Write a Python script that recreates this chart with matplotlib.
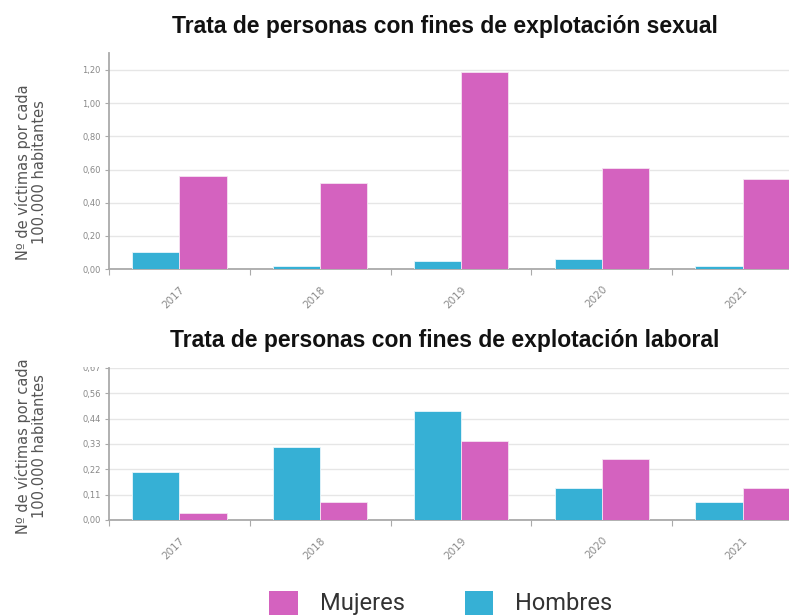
import matplotlib
matplotlib.use("Agg")
import matplotlib.pyplot as plt
from matplotlib.patches import Patch, Rectangle
import numpy as np

years = ["2017", "2018", "2019", "2020", "2021"]
sexual_mujeres = [0.56, 0.52, 1.19, 0.61, 0.54]
sexual_hombres = [0.10, 0.02, 0.05, 0.06, 0.02]
laboral_mujeres = [0.03, 0.08, 0.35, 0.27, 0.14]
laboral_hombres = [0.21, 0.32, 0.48, 0.14, 0.08]
sexual_ticks = [0.0, 0.2, 0.4, 0.6, 0.8, 1.0, 1.2]
sexual_ticklabels = ["0,00", "0,20", "0,40", "0,60", "0,80", "1,00", "1,20"]
laboral_ticklabels = ["0,00", "0,11", "0,22", "0,33", "0,44", "0,56", "0,67"]
laboral_max = 0.67
titles = ["Trata de personas con fines de explotación sexual",
          "Trata de personas con fines de explotación laboral"]
ylabel = "Nº de víctimas por cada\n100.000 habitantes"
legend_labels = ["Mujeres", "Hombres"]

C_M = "#d462bf"
C_H = "#36b0d5"
W, H = 789, 615

fig = plt.figure(figsize=(W / 100, H / 100), dpi=100)
fig.patch.set_facecolor("white")

def fx(px):
    return px / W

def fy(py):
    return 1 - py / H

ax1 = fig.add_axes([fx(109), fy(269), fx(813) - fx(109), fy(53) - fy(269)])
ax2 = fig.add_axes([fx(109), fy(520), fx(813) - fx(109), fy(368) - fy(520)])

x = np.arange(len(years))
bw = 0.335

def style(ax, mh, mm, yticks, ylabels, ymax):
    ax.bar(x - bw / 2, mh, bw, color=C_H, edgecolor="#e8f6fb", linewidth=0.6, zorder=3)
    ax.bar(x + bw / 2, mm, bw, color=C_M, edgecolor="#f6e3f2", linewidth=0.6, zorder=3)
    ax.set_xlim(-0.5, 4.5)
    ax.set_ylim(0, ymax)
    ax.set_yticks(yticks)
    ax.set_yticklabels(ylabels, fontsize=6, color="#888888")
    ax.set_xticks(x)
    ax.set_xticklabels(years, rotation=45, fontsize=7.5, color="#8a8a8a",
                       ha="right", rotation_mode="anchor")
    ax.set_xticks(np.arange(-0.5, 5, 1), minor=True)
    ax.tick_params(axis="x", which="major", length=0, pad=11)
    ax.tick_params(axis="x", which="minor", length=4, color="#aaaaaa", width=0.8)
    ax.tick_params(axis="y", length=3, color="#aaaaaa", width=0.8, pad=3)
    ax.yaxis.grid(True, color="#e6e6e6", linewidth=1, zorder=0)
    ax.set_axisbelow(True)
    for s in ["top", "right"]:
        ax.spines[s].set_visible(False)
    for s in ["left", "bottom"]:
        ax.spines[s].set_color("#aaaaaa")
        ax.spines[s].set_linewidth(1.3)

style(ax1, sexual_hombres, sexual_mujeres, sexual_ticks, sexual_ticklabels,
      1.20 * 216 / 199)
lab_ticks = [laboral_max * i / 6 for i in range(7)]
style(ax2, laboral_hombres, laboral_mujeres, lab_ticks, laboral_ticklabels, laboral_max)

fig.text(fx(445), fy(27), titles[0], ha="center", va="center",
         fontsize=16.5, fontweight="bold", family="Liberation Sans", color="#111111")
fig.text(fx(445), fy(341), titles[1], ha="center", va="center",
         fontsize=16.5, fontweight="bold", family="Liberation Sans", color="#111111")

# white band partially hiding top tick label of lower chart
fig.patches.append(Rectangle((fx(60), fy(367)), fx(106) - fx(60), fy(354) - fy(367),
                             transform=fig.transFigure, facecolor="white",
                             edgecolor="none", zorder=5))

fig.text(fx(31), fy(172), ylabel, ha="center", va="center", rotation=90,
         fontsize=10.5, family="DejaVu Sans", color="#555555", linespacing=1.05)
fig.text(fx(31), fy(446), ylabel, ha="center", va="center", rotation=90,
         fontsize=10.5, family="DejaVu Sans", color="#555555", linespacing=1.05)

handles = [Patch(facecolor=C_M, edgecolor="none"), Patch(facecolor=C_H, edgecolor="none")]
fig.legend(handles, legend_labels, loc="center", bbox_to_anchor=(fx(441), fy(603)),
           ncol=2, frameon=False, prop={"family": "Roboto", "size": 17},
           handlelength=1.19, handleheight=1.19, handletextpad=0.93,
           columnspacing=2.58, labelcolor="#333333")

fig.savefig("out.png", dpi=100, facecolor="white")
